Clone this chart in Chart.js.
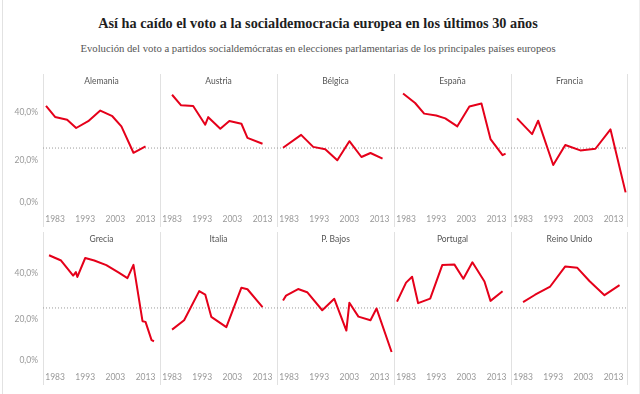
<!DOCTYPE html>
<html><head><meta charset="utf-8">
<script src="https://cdn.jsdelivr.net/npm/chart.js@4.4.0/dist/chart.umd.min.js"></script>
<style>
html,body{margin:0;padding:0;background:#fff;}
body{width:640px;height:394px;position:relative;overflow:hidden;}
.txt{position:absolute;left:0;width:636px;text-align:center;white-space:nowrap;line-height:1;}
#title{font-family:"Liberation Serif",serif;font-weight:bold;color:#1e1e1e;}
#subtitle{font-family:"Liberation Serif",serif;color:#555;}
canvas{position:absolute;}
.frame{position:absolute;top:0;width:1px;height:394px;background:#e2e2e2;}
</style></head>
<body>
<div class="frame" style="left:2px"></div>
<div class="frame" style="left:639px;background:#eee"></div>
<div id="title" class="txt">Así ha caído el voto a la socialdemocracia europea en los últimos 30 años</div>
<div id="subtitle" class="txt">Evolución del voto a partidos socialdemócratas en elecciones parlamentarias de los principales países europeos</div>
<script>
// ---- data ----
const COUNTRIES = ['Alemania','Austria','Bélgica','España','Francia','Grecia','Italia','P. Bajos','Portugal','Reino Unido'];
const YEARS_ALEMANIA = [1980,1983,1987,1990,1994,1998,2002,2005,2009,2013];
const VOTE_ALEMANIA  = [42.9,38.2,37.0,33.5,36.4,40.9,38.5,34.2,23.0,25.7];
const YEARS_AUSTRIA  = [1983,1986,1990,1994,1995,1999,2002,2006,2008,2013];
const VOTE_AUSTRIA   = [47.6,43.1,42.8,34.9,38.1,33.2,36.5,35.3,29.3,26.8];
const YEARS_BELGICA  = [1981,1987,1991,1995,1999,2003,2007,2010,2014];
const VOTE_BELGICA   = [25.1,30.6,25.5,24.5,19.8,27.9,21.2,22.9,20.5];
const YEARS_ESPANA   = [1982,1986,1989,1993,1996,2000,2004,2008,2011,2015,2016];
const VOTE_ESPANA    = [48.1,44.1,39.6,38.8,37.6,34.2,42.6,43.9,28.8,22.0,22.6];
const YEARS_FRANCIA  = [1981,1986,1988,1993,1997,2002,2007,2012,2017];
const VOTE_FRANCIA   = [37.6,30.9,36.6,17.8,26.3,24.0,24.7,32.9,6.2];
const YEARS_GRECIA   = [1981,1985,1989.0,1989.9,1990.4,1993,1996,2000,2004,2007,2009,2012,2013,2015,2015.8];
const VOTE_GRECIA    = [48.1,45.8,39.2,40.7,38.6,46.9,45.8,43.8,40.6,38.1,43.9,19.2,18.9,10.9,10.4];
const YEARS_ITALIA   = [1983,1987,1992,1994,1996,2001,2006,2008,2013];
const VOTE_ITALIA    = [15.5,19.6,32.4,30.9,21.1,16.6,33.9,33.2,25.4];
const YEARS_PBAJOS   = [1981,1982,1986,1989,1994,1998,2002,2003,2006,2010,2012,2017];
const VOTE_PBAJOS    = [28.3,30.4,33.3,31.9,24.0,29.0,15.1,27.3,21.2,19.6,24.8,5.7];
const YEARS_PORTUGAL = [1980,1983,1985,1987,1991,1995,1999,2002,2005,2009,2011,2015];
const VOTE_PORTUGAL  = [27.8,36.1,38.7,27.1,29.1,43.8,44.1,37.8,45.0,36.6,28.1,32.3];
const YEARS_RUNIDO   = [1983,1987,1992,1997,2001,2005,2010,2015];
const VOTE_RUNIDO    = [27.6,30.8,34.4,43.2,42.6,36.8,30.6,35.0];
const X_TICKS = [1983,1993,2003,2013];
const Y_TICKS = [0,20,40];
const REF_VALUE = 25;

const SERIES = [
  [YEARS_ALEMANIA,VOTE_ALEMANIA],[YEARS_AUSTRIA,VOTE_AUSTRIA],[YEARS_BELGICA,VOTE_BELGICA],
  [YEARS_ESPANA,VOTE_ESPANA],[YEARS_FRANCIA,VOTE_FRANCIA],[YEARS_GRECIA,VOTE_GRECIA],
  [YEARS_ITALIA,VOTE_ITALIA],[YEARS_PBAJOS,VOTE_PBAJOS],[YEARS_PORTUGAL,VOTE_PORTUGAL],
  [YEARS_RUNIDO,VOTE_RUNIDO]
];

// ---- title fitting ----
function fit(id, family, weight, target, centerY){
  const el = document.getElementById(id);
  const c = document.createElement('canvas').getContext('2d');
  c.font = weight + ' 20px ' + family;
  const w = c.measureText(el.textContent).width;
  const size = 20 * target / w;
  el.style.fontSize = size + 'px';
  el.style.top = (centerY - size*0.55) + 'px';
}
fit('title', '"Liberation Serif"', 'bold', 440, 24);
fit('subtitle', '"Liberation Serif"', 'normal', 476, 48.5);

// ---- layout ----
const X_MIN = 1979.0, X_MAX = 2017.8;
const PANEL_W = 117, PANEL_L = 43, AXIS_W = 43;
const ROW_TOP = [74, 232], PLOT_H = 133, XAXIS_H = 20;
const ROW_YMAX = [56.4, 58.3];
const RED = '#e5001a';
const LABEL_FONT = {family:'Lato', size:8.5};

const deco = {
  id:'deco',
  beforeDatasetsDraw(chart, args, o){
    const {ctx, chartArea:a} = chart;
    ctx.save();
    ctx.strokeStyle = '#e1e1e1'; ctx.lineWidth = 1;
    const xs = [Math.round(a.left)+0.5];
    if (o.last) xs.push(Math.round(a.right)-0.5);
    xs.forEach(x=>{ctx.beginPath();ctx.moveTo(x,a.top);ctx.lineTo(x,chart.height);ctx.stroke();});
    ctx.fillStyle = '#555';
    ctx.font = '8.5px Lato';
    ctx.textAlign = 'center'; ctx.textBaseline = 'middle';
    ctx.fillText(o.title, (a.left+a.right)/2, a.top+7);
    ctx.restore();
  }
};

COUNTRIES.forEach((name, k)=>{
  const r = Math.floor(k/5), c = k%5;
  const first = c===0, last = c===4;
  const cv = document.createElement('canvas');
  const left = first ? 0 : PANEL_L + PANEL_W*c;
  const width = first ? AXIS_W + PANEL_W : PANEL_W;
  const height = PLOT_H + XAXIS_H;
  cv.width = width; cv.height = height;
  cv.style.left = left+'px'; cv.style.top = ROW_TOP[r]+'px';
  cv.style.width = width+'px'; cv.style.height = height+'px';
  document.body.appendChild(cv);
  const [yrs, vals] = SERIES[k];
  new Chart(cv, {
    type:'line',
    data:{datasets:[
      {data: yrs.map((y,i)=>({x:y,y:vals[i]})), borderColor:RED, borderWidth:2, pointRadius:0, tension:0, borderJoinStyle:'round', order:0},
      {data:[{x:X_MIN,y:REF_VALUE},{x:X_MAX,y:REF_VALUE}], borderColor:'#9a9a9a', borderWidth:1, borderDash:[1,2], pointRadius:0, order:1}
    ]},
    options:{
      responsive:false, animation:false, devicePixelRatio:1,
      layout:{padding:0},
      plugins:{legend:{display:false}, tooltip:{enabled:false}, title:{display:false}, deco:{title:name,last:last}},
      scales:{
        x:{type:'linear', min:X_MIN, max:X_MAX,
           afterBuildTicks:s=>{s.ticks = X_TICKS.map(v=>({value:v}));},
           afterFit:s=>{s.height = XAXIS_H; s.paddingLeft = 0; s.paddingRight = 0;},
           grid:{display:false, drawTicks:false}, border:{display:false},
           ticks:{callback:v=>String(v), color:'#999', font:LABEL_FONT, padding:7, maxRotation:0, autoSkip:false}},
        y:{type:'linear', min:0, max:ROW_YMAX[r], display:first,
           afterBuildTicks:s=>{s.ticks = Y_TICKS.map(v=>({value:v}));},
           afterFit:s=>{ if(first){ s.width = AXIS_W; } s.paddingTop = 0; s.paddingBottom = 0;},
           grid:{display:false, drawTicks:false}, border:{display:false},
           ticks:{callback:v=>{const t=v.toFixed(1).replace('.',',')+'%'; return v===0 ? [t,''] : t;},
                  color:'#999', font:LABEL_FONT, padding:5}}
      }
    },
    plugins:[deco]
  });
});
</script>
</body></html>
